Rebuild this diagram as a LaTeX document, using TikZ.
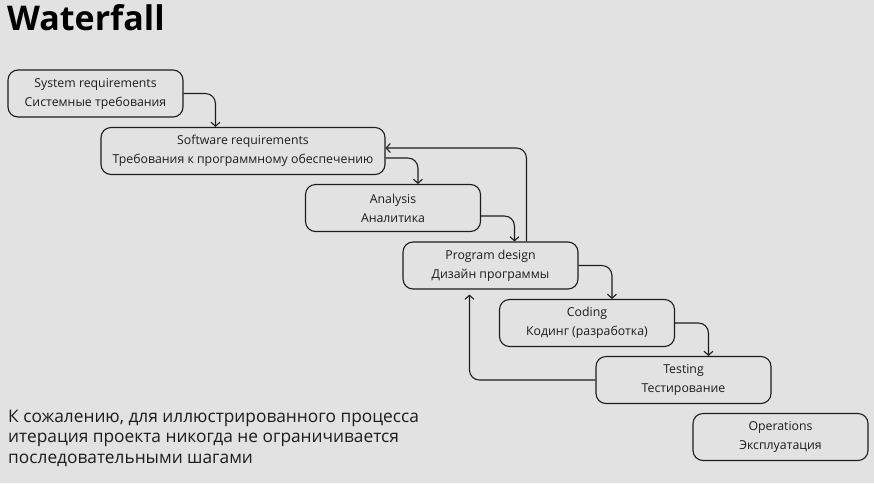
\documentclass[tikz,border=0pt]{standalone}
\usepackage{fontspec}
\setmainfont{Open Sans}
\usetikzlibrary{arrows.meta}
\definecolor{bgcol}{RGB}{226,226,226}
\definecolor{ink}{RGB}{28,28,28}
\begin{document}
\begin{tikzpicture}[x=1pt,y=-1pt,>={Straight Barb[length=4pt,width=9pt]},
	stage/.style={draw=ink,line width=1.1pt,rounded corners=10pt,minimum width=175pt,
		minimum height=47pt,inner sep=0pt,align=center,text=ink,
		font=\fontsize{12.3}{19}\selectfont},
	flow/.style={->,draw=ink,line width=1.1pt,rounded corners=10pt}]
	\fill[bgcol] (0,0) rectangle (874,483);
	\useasboundingbox (0,0) rectangle (874,483);
	\node[anchor=base west,inner sep=0pt,font=\fontsize{34}{40}\selectfont\bfseries] (title) at (7,30) {Waterfall};
	\node[stage] (sysreq) at (95.5,93.5) {System requirements\\Системные требования};
	\node[stage,minimum width=284pt] (swreq) at (243,151) {Software requirements\\Требования к программному обеспечению};
	\node[stage] (analysis) at (393,208) {Analysis\\Аналитика};
	\node[stage] (design) at (490.5,265.5) {Program design\\Дизайн программы};
	\node[stage] (coding) at (587,323) {Coding\\Кодинг (разработка)};
	\node[stage] (testing) at (683.5,380) {Testing\\Тестирование};
	\node[stage] (ops) at (780.5,437) {Operations\\Эксплуатация};
	\node[anchor=base west,inner sep=0pt,align=left,text=ink,font=\fontsize{17.3}{20.5}\selectfont] (note) at (8,463)
		{К сожалению, для иллюстрированного процесса\\итерация проекта никогда не ограничивается\\последовательными шагами};
	\draw[flow] (sysreq.east) -| ([xshift=115pt]swreq.north west);
	\draw[flow] ([yshift=-7pt]swreq.east) -| ([xshift=113pt]analysis.north west);
	\draw[flow] ([yshift=-8pt]analysis.east) -| ([xshift=112pt]design.north west);
	\draw[flow] (design.east) -| ([xshift=113pt]coding.north west);
	\draw[flow] (coding.east) -| ([xshift=113pt]testing.north west);
	\draw[flow] ([xshift=124pt]design.north west) |- ([yshift=3pt]swreq.east);
	\draw[flow,shorten >=5pt] (testing.west) -| ([xshift=67pt]design.south west);
\end{tikzpicture}
\end{document}
